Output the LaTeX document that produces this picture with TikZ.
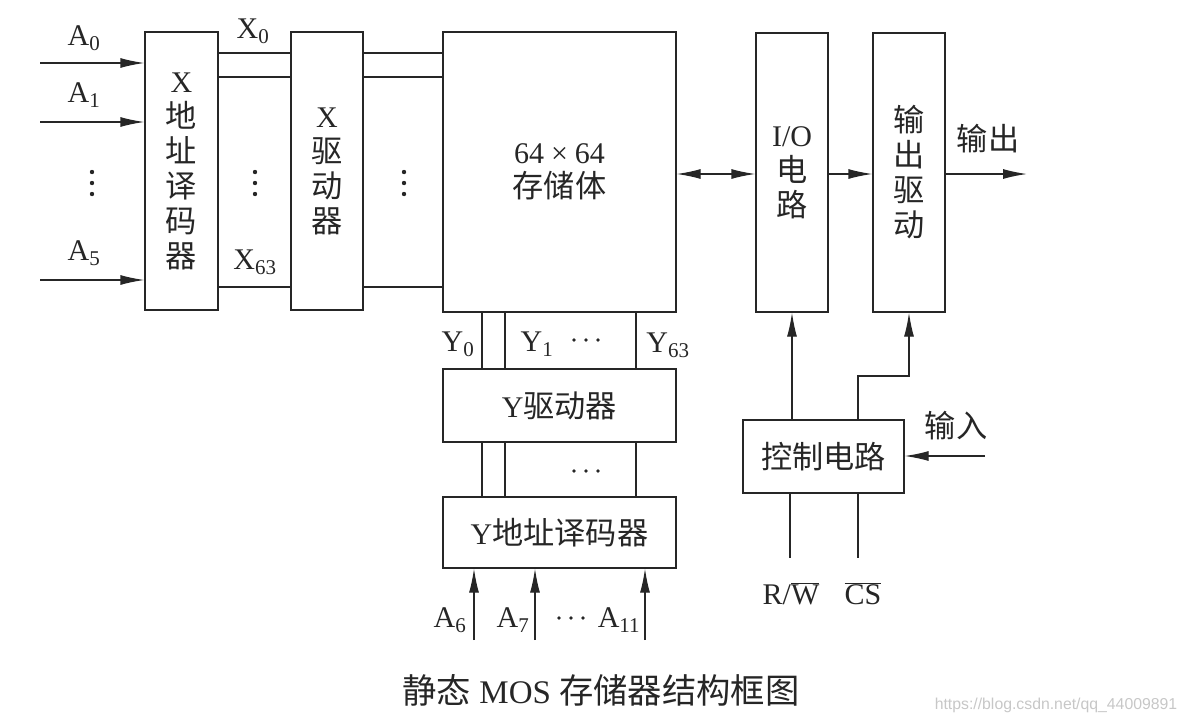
\documentclass[tikz,border=0pt]{standalone}
\usepackage{fontspec}
\setmainfont{Liberation Serif}
\newfontfamily\cjk{Noto Sans CJK SC}[Scale=1.04]
\newfontfamily\wmfont{Liberation Sans}
\usetikzlibrary{arrows.meta,calc}
\newcommand\zh[1]{{\cjk #1}}
\begin{document}
\begin{tikzpicture}[x=1pt,y=-1pt,line width=1.3pt,color=black!85,
  box/.style={draw,rectangle,inner sep=0pt,align=center,font=\fontsize{30}{35}\selectfont},
  arr/.style={-{Latex[length=24pt,width=10pt]}},
  darr/.style={{Latex[length=24pt,width=10pt]}-{Latex[length=24pt,width=10pt]}},
  lbl/.style={inner sep=0pt,font=\fontsize{30}{34}\selectfont},
  dot/.style={fill,circle,inner sep=0pt,minimum size=4.4pt}]
\useasboundingbox (0,0) rectangle (1186,724);

% boxes
\node[box,minimum width=73pt,minimum height=278pt] (xdec) at (181.5,171)
  {X\\\zh{地}\\\zh{址}\\\zh{译}\\\zh{码}\\\zh{器}};
\node[box,minimum width=72pt,minimum height=278pt] (xdrv) at (327,171)
  {X\\\zh{驱}\\\zh{动}\\\zh{器}};
\node[box,minimum width=233pt,minimum height=280pt,font=\fontsize{30}{34}\selectfont] (mem) at (559.5,172)
  {64\kern7pt×\kern7pt64\\\zh{存储体}};
\node[box,minimum width=72pt,minimum height=279pt,font=\fontsize{30}{35}\selectfont] (io) at (792,172.5)
  {I/O\\\zh{电}\\\zh{路}};
\node[box,minimum width=72pt,minimum height=279pt] (outd) at (909,172.5)
  {\zh{输}\\\zh{出}\\\zh{驱}\\\zh{动}};
\node[box,minimum width=233pt,minimum height=73pt] (ydrv) at (559.5,405.5)
  {Y\zh{驱动器}};
\node[box,minimum width=233pt,minimum height=71pt] (ydec) at (559.5,532.5)
  {Y\zh{地址译码器}};
\node[box,minimum width=161pt,minimum height=73pt] (ctrl) at (823.5,456.5)
  {\zh{控制电路}};

% X address inputs
\coordinate (a0) at (40,63);
\coordinate (a1) at (40,122);
\coordinate (a5) at (40,280);
\foreach \c in {a0,a1,a5} \draw[arr] (\c) -- (xdec.west |- \c);
\node[lbl] (la0) at (84,38) {A\textsubscript{0}};
\node[lbl] (la1) at (84,95) {A\textsubscript{1}};
\node[lbl] (la5) at (84,253) {A\textsubscript{5}};
\foreach \x in {92,255,404} \foreach \y in {172,183,194} \node[dot] at (\x,\y) {};

% X lines
\foreach \y in {53,77,287} {
  \draw (xdec.east |- 0,\y) -- (xdrv.west |- 0,\y);
  \draw (xdrv.east |- 0,\y) -- (mem.west |- 0,\y);
}
\node[lbl] (lx0) at (253,31) {X\textsubscript{0}};
\node[lbl] (lx63) at (255,262) {X\textsubscript{63}};

% Y lines
\foreach \x in {482,505,636} {
  \draw (mem.south -| \x,0) -- (ydrv.north -| \x,0);
  \draw (ydrv.south -| \x,0) -- (ydec.north -| \x,0);
}
\node[lbl] (ly0) at (458,344) {Y\textsubscript{0}};
\node[lbl] (ly1) at (537,344) {Y\textsubscript{1}};
\node[lbl] (ly63) at (668,345) {Y\textsubscript{63}};
\foreach \x in {574,586,598} {
  \node[dot,minimum size=3.6pt] at (\x,340) {};
  \node[dot,minimum size=3.6pt] at (\x,471) {};
}

% Y address inputs
\foreach \x/\n in {474/b6,535/b7,645/b11} {
  \coordinate (\n) at (\x,640);
  \draw[arr] (\n) -- (ydec.south -| \n);
}
\node[lbl] (la6) at (450,620) {A\textsubscript{6}};
\node[lbl] (la7) at (513,620) {A\textsubscript{7}};
\node[lbl] (la11) at (619,620) {A\textsubscript{11}};
\foreach \x in {559,571,583} \node[dot,minimum size=3.6pt] at (\x,618) {};

% data path
\coordinate (dp) at (0,174);
\draw[darr] (mem.east |- dp) -- (io.west |- dp);
\draw[arr] (io.east |- dp) -- (outd.west |- dp);
\coordinate (out) at (1027,174);
\draw[arr] (outd.east |- out) -- (out);
\node[lbl] (lout) at (988,139) {\zh{输出}};

% control
\draw[arr] (io.south |- ctrl.north) -- (io.south);
\coordinate (c2) at (858,376);
\draw[arr] (ctrl.north -| c2) -- (c2) -| (outd.south);
\coordinate (in) at (985,456);
\draw[arr] (in) -- (ctrl.east |- in);
\node[lbl] (lin) at (956,426) {\zh{输入}};
\coordinate (rw) at (790,558);
\coordinate (cs) at (858,558);
\draw (ctrl.south -| rw) -- (rw);
\draw (ctrl.south -| cs) -- (cs);
\node[lbl] (lrw) at (791,594) {R/$\overline{\hbox{W}}$};
\node[lbl] (lcs) at (863,594) {$\overline{\hbox{CS}}$};

% caption and watermark
\node[inner sep=0pt,font=\fontsize{33}{36}\selectfont] (cap) at (601,690) {\zh{静态} MOS \zh{存储器结构框图}};
\node[inner sep=0pt,font=\wmfont\fontsize{15.8}{18}\selectfont,text=black!22] (wm) at (1056,705) {https://blog.csdn.net/qq\_44009891};
\end{tikzpicture}
\end{document}
